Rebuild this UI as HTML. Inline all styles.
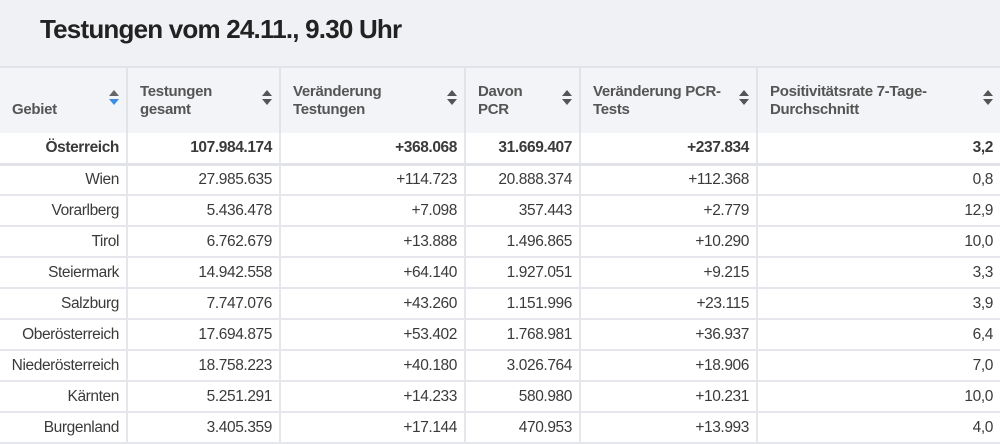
<!DOCTYPE html>
<html><head><meta charset="utf-8">
<style>
*{margin:0;padding:0;box-sizing:border-box}
body{width:1000px;height:441px;overflow:hidden;background:#fff;font-family:"Liberation Sans",Arial,sans-serif;color:#3a3a3a;position:relative}
#title{position:absolute;left:0;top:0;width:1000px;height:68px;background:#f0f1f5;border-bottom:2px solid #e2e3e8}
#title h1{position:absolute;left:40px;top:14px;font-size:26px;font-weight:bold;color:#222;letter-spacing:-0.8px}
table{position:absolute;left:0;top:68px;border-collapse:collapse;width:1000px;table-layout:fixed}
th{background:#f3f4f7;height:65px;text-align:left;vertical-align:bottom;padding:0 30px 14px 12px;font-size:15px;font-weight:bold;color:#555;line-height:18px;border-right:2px solid #e2e3e8;position:relative;letter-spacing:-0.3px}
th:first-child{padding-left:12px}
td{height:31px;text-align:right;padding:0 7px 0 2px;font-size:15.5px;border-right:2px solid #e6e7ec;border-bottom:2px solid #e6e7ec;white-space:nowrap;letter-spacing:-0.4px}
tr.bold td{font-weight:bold;border-bottom:3px solid #e2e3e8}
th:last-child,td:last-child{border-right:none}
.sort{position:absolute;right:6px;top:22px;width:12px;height:18px}
.sort:before{content:"";position:absolute;left:1px;top:0;border-left:5px solid transparent;border-right:5px solid transparent;border-bottom:6px solid #555}
.sort:after{content:"";position:absolute;left:1px;top:9px;border-left:5px solid transparent;border-right:5px solid transparent;border-top:6px solid #555}
.sort.active:before{border-bottom-color:#666}
.sort.active:after{border-top-color:#3a8ee6}
</style></head>
<body>
<div id="title"><h1>Testungen vom 24.11., 9.30 Uhr</h1></div>
<table>
<colgroup><col style="width:127px"><col style="width:153px"><col style="width:185px"><col style="width:115px"><col style="width:177px"><col style="width:243px"></colgroup>
<thead><tr>
<th>Gebiet<span class="sort active"></span></th>
<th>Testungen<br>gesamt<span class="sort"></span></th>
<th>Veränderung<br>Testungen<span class="sort"></span></th>
<th>Davon<br>PCR<span class="sort"></span></th>
<th>Veränderung PCR-<br>Tests<span class="sort"></span></th>
<th>Positivitätsrate 7-Tage-<br>Durchschnitt<span class="sort"></span></th>
</tr></thead>
<tbody>
<tr class="bold"><td>Österreich</td><td>107.984.174</td><td>+368.068</td><td>31.669.407</td><td>+237.834</td><td>3,2</td></tr>
<tr><td>Wien</td><td>27.985.635</td><td>+114.723</td><td>20.888.374</td><td>+112.368</td><td>0,8</td></tr>
<tr><td>Vorarlberg</td><td>5.436.478</td><td>+7.098</td><td>357.443</td><td>+2.779</td><td>12,9</td></tr>
<tr><td>Tirol</td><td>6.762.679</td><td>+13.888</td><td>1.496.865</td><td>+10.290</td><td>10,0</td></tr>
<tr><td>Steiermark</td><td>14.942.558</td><td>+64.140</td><td>1.927.051</td><td>+9.215</td><td>3,3</td></tr>
<tr><td>Salzburg</td><td>7.747.076</td><td>+43.260</td><td>1.151.996</td><td>+23.115</td><td>3,9</td></tr>
<tr><td>Oberösterreich</td><td>17.694.875</td><td>+53.402</td><td>1.768.981</td><td>+36.937</td><td>6,4</td></tr>
<tr><td>Niederösterreich</td><td>18.758.223</td><td>+40.180</td><td>3.026.764</td><td>+18.906</td><td>7,0</td></tr>
<tr><td>Kärnten</td><td>5.251.291</td><td>+14.233</td><td>580.980</td><td>+10.231</td><td>10,0</td></tr>
<tr><td>Burgenland</td><td>3.405.359</td><td>+17.144</td><td>470.953</td><td>+13.993</td><td>4,0</td></tr>
</tbody></table>
</body></html>
